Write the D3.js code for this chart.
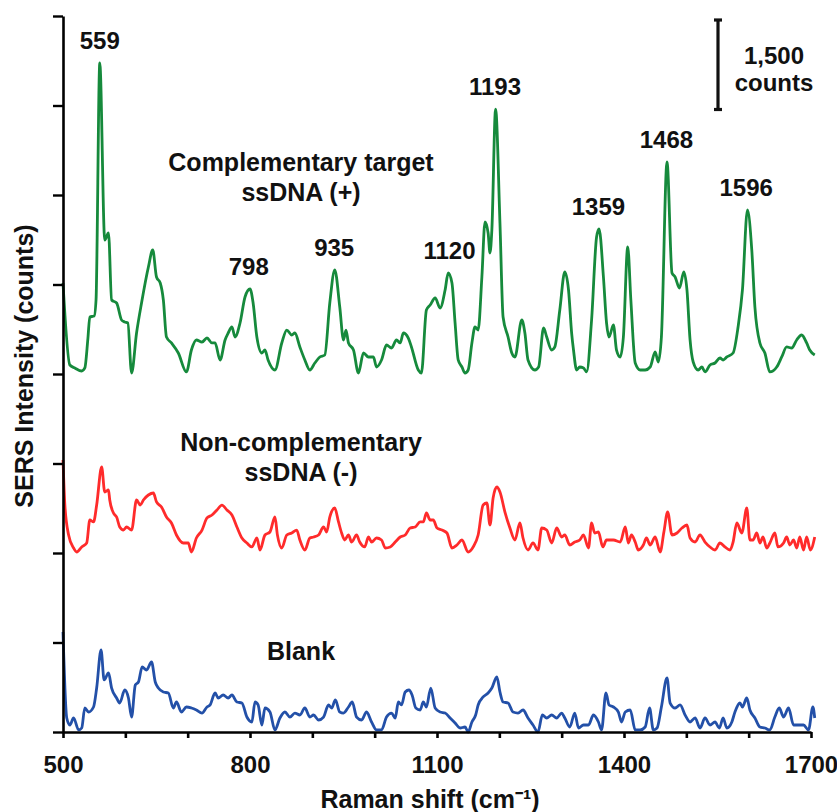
<!DOCTYPE html>
<html>
<head>
<meta charset="utf-8">
<script src="https://cdn.jsdelivr.net/npm/d3@7"></script>
<style>
  html, body { margin: 0; padding: 0; background: #fff; }
  svg { display: block; }
  text { font-family: "Liberation Sans", Arial, sans-serif; font-weight: bold; fill: #111; }
</style>
</head>
<body>
<svg id="chart" width="837" height="812"></svg>
<script>
// ---- data (wavenumber cm^-1, intensity counts above each trace's own baseline) ----
const complementary = [
  [500,1525],[511,151],[519,101],[530,50],[535,101],[540,603],[543,955],[550,972],[553,1240],[559,5212],
  [567,2246],[573,2363],[578,1240],[586,1190],[594,905],[599,872],[604,855],[610,17],[618,687],[626,1190],
  [637,1793],[644,2078],[650,1626],[656,1525],[661,1240],[666,620],[674,520],[685,352],[698,34],[706,402],
  [714,570],[723,536],[731,603],[739,520],[744,520],[752,235],[760,570],[765,687],[771,788],[776,620],
  [784,855],[792,1291],[800,1425],[805,1190],[811,620],[819,352],[824,402],[829,235],[840,67],[851,520],
  [859,737],[867,654],[872,687],[880,453],[888,235],[896,67],[904,184],[912,285],[920,318],[928,1190],
  [936,1743],[944,1123],[950,570],[954,737],[958,520],[966,402],[974,17],[982,352],[990,285],[998,285],
  [1003,117],[1011,235],[1019,486],[1027,436],[1035,570],[1041,520],[1046,687],[1054,603],[1059,453],[1070,67],
  [1075,17],[1083,1073],[1089,1156],[1097,1274],[1105,1106],[1113,1408],[1118,1693],[1124,1525],[1129,855],[1134,235],
  [1140,117],[1145,17],[1150,67],[1156,520],[1161,788],[1166,737],[1172,1626],[1177,2548],[1182,2363],[1185,2028],
  [1188,2413],[1194,4440],[1201,2531],[1206,955],[1214,620],[1220,352],[1225,285],[1236,905],[1241,687],[1246,235],
  [1257,67],[1263,117],[1271,771],[1276,620],[1284,402],[1289,453],[1297,1073],[1305,1710],[1311,1408],[1316,687],
  [1319,402],[1324,67],[1329,117],[1335,101],[1340,34],[1348,905],[1356,2296],[1360,2430],[1367,1626],[1372,855],
  [1376,620],[1383,821],[1388,402],[1394,285],[1399,620],[1406,2129],[1411,1240],[1418,184],[1426,67],[1434,67],
  [1442,117],[1450,369],[1455,201],[1460,620],[1469,3553],[1477,1693],[1482,1626],[1489,1441],[1496,1710],[1501,1408],
  [1506,570],[1511,201],[1519,67],[1525,117],[1530,34],[1538,151],[1546,184],[1554,268],[1559,235],[1565,285],
  [1575,352],[1583,788],[1590,1408],[1598,2749],[1605,2078],[1610,1123],[1618,520],[1626,352],[1634,34],[1645,117],
  [1653,285],[1661,453],[1669,436],[1677,570],[1685,654],[1693,520],[1698,402],[1706,318]
];
const nonComplementary = [
  [500,1559],[503,804],[509,302],[517,84],[522,17],[530,101],[538,168],[543,553],[549,520],[554,804],
  [562,1441],[567,1022],[573,1056],[575,888],[581,670],[586,603],[591,436],[597,385],[602,436],[610,385],
  [618,888],[624,804],[629,888],[637,972],[645,1006],[650,855],[658,771],[666,603],[674,503],[682,302],
  [693,168],[701,168],[706,17],[714,251],[723,385],[731,587],[739,637],[747,721],[755,804],[763,721],
  [771,637],[779,436],[787,251],[795,168],[803,101],[811,251],[816,50],[824,302],[832,352],[840,603],
  [844,302],[851,84],[859,302],[867,335],[875,385],[880,218],[888,50],[896,251],[902,268],[910,302],
  [918,436],[923,352],[928,603],[936,754],[942,520],[947,335],[952,218],[958,302],[963,184],[971,302],
  [976,184],[984,101],[990,268],[995,184],[1003,251],[1011,218],[1017,84],[1025,101],[1033,184],[1041,268],
  [1049,302],[1057,419],[1065,436],[1073,520],[1078,520],[1083,670],[1089,553],[1094,553],[1100,419],[1108,385],
  [1116,335],[1124,84],[1132,134],[1140,218],[1150,17],[1158,101],[1166,302],[1174,804],[1180,838],[1185,469],
  [1190,922],[1196,1106],[1201,1022],[1209,687],[1217,419],[1225,218],[1233,503],[1238,251],[1246,50],[1254,168],
  [1262,50],[1268,419],[1276,385],[1284,168],[1292,419],[1300,268],[1305,302],[1313,134],[1321,184],[1329,218],
  [1335,302],[1343,84],[1348,503],[1353,335],[1359,352],[1366,101],[1372,218],[1383,218],[1394,184],[1402,436],
  [1407,168],[1412,302],[1418,184],[1423,50],[1431,134],[1436,251],[1442,134],[1450,268],[1458,17],[1464,352],
  [1470,687],[1477,302],[1485,335],[1493,419],[1501,469],[1506,251],[1514,184],[1522,302],[1530,184],[1538,101],
  [1546,50],[1554,168],[1562,101],[1570,50],[1575,184],[1581,503],[1589,335],[1597,754],[1602,218],[1607,218],
  [1613,335],[1618,168],[1623,268],[1629,84],[1634,168],[1642,335],[1647,101],[1656,168],[1661,268],[1666,134],
  [1672,218],[1677,84],[1682,268],[1688,50],[1693,268],[1699,50],[1706,268]
];
const blank = [
  [500,1676],[506,235],[511,117],[517,235],[525,34],[530,67],[535,402],[541,335],[549,419],[554,737],
  [561,1374],[566,872],[573,989],[578,737],[586,570],[591,486],[599,704],[605,570],[610,251],[616,788],
  [621,838],[627,1089],[634,1039],[642,1173],[648,838],[653,737],[661,670],[669,654],[677,402],[682,503],
  [690,335],[698,419],[706,402],[714,369],[723,318],[731,419],[736,453],[744,654],[749,570],[757,620],
  [765,570],[771,620],[779,503],[787,486],[795,251],[803,168],[808,503],[813,453],[819,117],[824,402],
  [832,335],[840,34],[848,235],[856,335],[864,251],[872,318],[880,285],[888,402],[896,251],[902,285],
  [910,201],[918,251],[926,453],[931,402],[937,536],[944,335],[950,318],[958,419],[964,503],[971,251],
  [979,201],[987,335],[995,168],[1003,34],[1011,34],[1019,251],[1027,318],[1033,235],[1038,503],[1043,453],
  [1049,670],[1055,704],[1060,620],[1066,402],[1073,369],[1078,503],[1083,419],[1090,737],[1097,402],[1105,335],
  [1113,318],[1121,235],[1129,151],[1137,67],[1145,84],[1150,0],[1156,168],[1162,285],[1166,453],[1174,587],
  [1182,654],[1188,737],[1196,922],[1201,670],[1206,503],[1214,486],[1222,335],[1230,318],[1238,369],[1246,235],
  [1254,117],[1262,0],[1269,285],[1276,235],[1284,285],[1292,235],[1300,318],[1305,235],[1313,84],[1321,318],
  [1327,67],[1335,117],[1343,117],[1351,285],[1359,168],[1364,34],[1371,654],[1376,453],[1383,419],[1391,335],
  [1396,168],[1402,335],[1410,369],[1418,34],[1426,34],[1434,84],[1441,402],[1447,34],[1453,67],[1460,419],
  [1469,905],[1474,486],[1482,402],[1490,453],[1498,285],[1506,168],[1514,235],[1522,67],[1530,235],[1538,117],
  [1546,168],[1553,67],[1559,235],[1565,67],[1573,168],[1578,335],[1586,486],[1590,419],[1597,570],[1602,369],
  [1610,235],[1618,84],[1626,67],[1634,34],[1642,251],[1649,402],[1656,251],[1664,402],[1672,117],[1680,117],
  [1688,117],[1696,34],[1703,419],[1706,235]
];
const seriesData = [complementary, nonComplementary, blank];
const seriesOffsets = [6000, 3000, 0];              // stacking offset of each trace (counts)
const seriesColors = ["#168a3c", "#ff2b2b", "#2350a8"];
const seriesNames = [["Complementary target", "ssDNA (+)"], ["Non-complementary", "ssDNA (-)"], ["Blank"]];
const peakLabels = [559, 798, 935, 1120, 1193, 1359, 1468, 1596];
const xTicks = [500, 600, 700, 800, 900, 1000, 1100, 1200, 1300, 1400, 1500, 1600, 1700];
const xTickLabels = [500, 800, 1100, 1400, 1700];
const yTicks = [0, 1500, 3000, 4500, 6000, 7500, 9000, 10500, 12000];
const scaleBarCounts = 1500;
const scaleBarLabel = ["1,500", "counts"];
const xTitle = "Raman shift (cm\u207B\u00B9)";
const yTitle = "SERS Intensity (counts)";

// ---- layout ----
const svg = d3.select("#chart");
const mLeft = 63, mRight = 811, mTop = 16, mBottom = 732;
const x = d3.scaleLinear().domain([500, 1700]).range([mLeft, mRight]);
const y = d3.scaleLinear().domain([0, 12000]).range([mBottom, mTop]);

// traces
const line = d3.line().x(d => x(d[0])).y(d => y(d[1])).curve(d3.curveMonotoneX);
seriesData.forEach((s, i) => {
  const pts = s.map(d => [d[0], d[1] + seriesOffsets[i]]);
  svg.append("path").datum(pts)
    .attr("fill", "none")
    .attr("stroke", seriesColors[i])
    .attr("stroke-width", 2.8)
    .attr("stroke-linejoin", "round")
    .attr("d", line);
});

// y axis
const yAxis = svg.append("g").attr("transform", `translate(${mLeft},0)`)
  .call(d3.axisLeft(y).tickValues(yTicks).tickSize(10).tickSizeOuter(0).tickFormat(""));
yAxis.select(".domain").attr("stroke", "#000").attr("stroke-width", 2.6);
yAxis.selectAll(".tick line").attr("stroke", "#000").attr("stroke-width", 2.4);

// x axis
const xAxis = svg.append("g").attr("transform", `translate(0,${mBottom})`)
  .call(d3.axisBottom(x).tickValues(xTicks).tickSize(6).tickSizeOuter(0)
    .tickFormat(d => xTickLabels.includes(d) ? String(d) : ""));
xAxis.select(".domain").attr("stroke", "#000").attr("stroke-width", 2.6);
xAxis.selectAll(".tick line").attr("stroke", "#000").attr("stroke-width", 2.6);
xAxis.selectAll(".tick text")
  .attr("y", 0).attr("dy", 0)
  .attr("transform", "translate(0,41)")
  .style("font-size", "24px").style("font-family", "'Liberation Sans', Arial, sans-serif")
  .style("font-weight", "bold").attr("fill", "#111");

// axis titles
svg.append("text").attr("x", 430).attr("y", 808)
  .attr("text-anchor", "middle").style("font-size", "25px").text(xTitle);
svg.append("text")
  .attr("transform", "translate(33,366) rotate(-90)")
  .attr("text-anchor", "middle").style("font-size", "25px").text(yTitle);

// peak labels on the complementary trace
peakLabels.forEach(p => {
  const near = complementary.filter(d => Math.abs(d[0] - p) <= 8);
  const peak = d3.max(near, d => d[1]) + seriesOffsets[0];
  svg.append("text").attr("x", x(p)).attr("y", y(peak) - 14)
    .attr("text-anchor", "middle").style("font-size", "24px").text(p);
});

// series names
const nameAnchors = [[301, 171], [301, 451], [301, 660]];
seriesNames.forEach((lines, i) => {
  lines.forEach((t, j) => {
    svg.append("text").attr("x", nameAnchors[i][0]).attr("y", nameAnchors[i][1] + j * 30)
      .attr("text-anchor", "middle").style("font-size", "25px").text(t);
  });
});

// scale bar
const barX = 718, barTop = 20;
const barLen = y(0) - y(scaleBarCounts);
const bar = svg.append("g").attr("stroke", "#111").attr("stroke-width", 3.2);
bar.append("line").attr("x1", barX).attr("x2", barX).attr("y1", barTop).attr("y2", barTop + barLen);
bar.append("line").attr("x1", barX - 4).attr("x2", barX + 4).attr("y1", barTop).attr("y2", barTop);
bar.append("line").attr("x1", barX - 4).attr("x2", barX + 4).attr("y1", barTop + barLen).attr("y2", barTop + barLen);
scaleBarLabel.forEach((t, j) => {
  svg.append("text").attr("x", 774).attr("y", 64 + j * 27)
    .attr("text-anchor", "middle").style("font-size", "24px").text(t);
});
</script>
</body>
</html>
